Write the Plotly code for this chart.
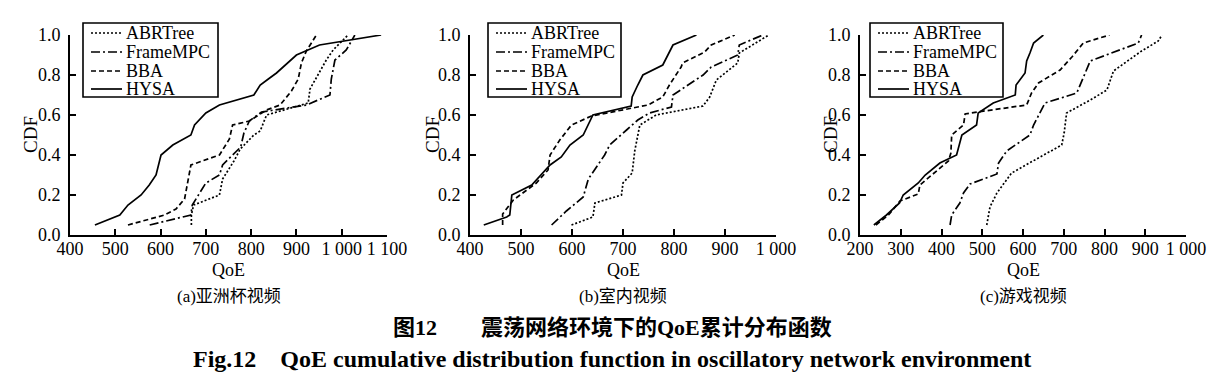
import plotly.graph_objects as go

# ---------------- data ----------------
SERIES = ["ABRTree", "FrameMPC", "BBA", "HYSA"]

# (a) 亚洲杯视频
A_ABRTREE_QOE = [668, 668, 673, 730, 737, 762, 776, 806, 820, 834, 926, 930, 966, 981, 1014]
A_ABRTREE_CDF = [0.05, 0.10, 0.15, 0.20, 0.28, 0.37, 0.43, 0.50, 0.52, 0.60, 0.66, 0.73, 0.875, 0.925, 1.0]
A_FRAMEMPC_QOE = [576, 667, 670, 700, 730, 737, 759, 777, 784, 796, 823, 922, 974, 977, 985, 1010, 1029]
A_FRAMEMPC_CDF = [0.05, 0.10, 0.15, 0.26, 0.30, 0.35, 0.40, 0.44, 0.51, 0.57, 0.615, 0.65, 0.70, 0.78, 0.875, 0.925, 1.0]
A_BBA_QOE = [528, 609, 634, 653, 667, 730, 752, 759, 796, 818, 834, 864, 889, 904, 911, 922, 944]
A_BBA_CDF = [0.05, 0.10, 0.13, 0.18, 0.35, 0.40, 0.48, 0.55, 0.57, 0.60, 0.625, 0.65, 0.72, 0.78, 0.86, 0.92, 1.0]
A_HYSA_QOE = [455, 510, 528, 557, 575, 590, 601, 627, 667, 675, 700, 730, 806, 820, 838, 856, 900, 922, 951, 1087]
A_HYSA_CDF = [0.05, 0.10, 0.15, 0.20, 0.25, 0.30, 0.40, 0.45, 0.50, 0.55, 0.61, 0.65, 0.70, 0.75, 0.78, 0.81, 0.90, 0.92, 0.95, 1.0]

# (b) 室内视频
B_ABRTREE_QOE = [599, 641, 645, 697, 700, 718, 723, 733, 765, 857, 870, 883, 925, 928, 986]
B_ABRTREE_CDF = [0.05, 0.09, 0.16, 0.20, 0.26, 0.31, 0.42, 0.55, 0.60, 0.645, 0.69, 0.775, 0.86, 0.91, 1.0]
B_FRAMEMPC_QOE = [560, 589, 622, 632, 664, 674, 707, 729, 752, 795, 798, 857, 873, 925, 928, 974]
B_FRAMEMPC_CDF = [0.05, 0.12, 0.19, 0.28, 0.40, 0.45, 0.525, 0.575, 0.61, 0.64, 0.70, 0.80, 0.84, 0.90, 0.95, 1.0]
B_BBA_QOE = [464, 464, 485, 530, 553, 557, 576, 599, 638, 749, 778, 791, 814, 817, 860, 873, 919]
B_BBA_CDF = [0.05, 0.105, 0.175, 0.26, 0.325, 0.40, 0.475, 0.55, 0.595, 0.65, 0.69, 0.75, 0.84, 0.86, 0.915, 0.95, 1.0]
B_HYSA_QOE = [427, 472, 478, 482, 521, 557, 579, 596, 622, 641, 716, 718, 729, 739, 778, 798, 844]
B_HYSA_CDF = [0.05, 0.09, 0.10, 0.20, 0.25, 0.35, 0.39, 0.45, 0.50, 0.60, 0.645, 0.69, 0.75, 0.80, 0.85, 0.95, 1.0]

# (c) 游戏视频
C_ABRTREE_QOE = [511, 519, 536, 572, 642, 695, 701, 707, 765, 806, 822, 891, 932, 941]
C_ABRTREE_CDF = [0.05, 0.14, 0.21, 0.31, 0.39, 0.45, 0.51, 0.61, 0.675, 0.725, 0.82, 0.92, 0.97, 1.0]
C_FRAMEMPC_QOE = [421, 425, 445, 454, 470, 536, 540, 560, 617, 626, 654, 732, 765, 838, 883, 891]
C_FRAMEMPC_CDF = [0.05, 0.10, 0.16, 0.21, 0.255, 0.305, 0.36, 0.42, 0.50, 0.55, 0.66, 0.71, 0.87, 0.925, 0.96, 1.0]
C_BBA_QOE = [239, 270, 298, 343, 347, 417, 423, 425, 454, 458, 495, 609, 621, 638, 691, 720, 748, 812]
C_BBA_CDF = [0.05, 0.10, 0.17, 0.205, 0.25, 0.37, 0.41, 0.50, 0.55, 0.605, 0.617, 0.65, 0.71, 0.76, 0.825, 0.89, 0.96, 1.0]
C_HYSA_QOE = [234, 265, 297, 306, 343, 360, 396, 437, 450, 486, 490, 527, 581, 583, 605, 609, 617, 626, 650]
C_HYSA_CDF = [0.05, 0.10, 0.16, 0.20, 0.26, 0.30, 0.36, 0.40, 0.50, 0.55, 0.61, 0.66, 0.70, 0.75, 0.81, 0.87, 0.91, 0.96, 1.0]

A_XTICKS = [400, 500, 600, 700, 800, 900, 1000, 1100]
A_XTICKTEXT = ["400", "500", "600", "700", "800", "900", "1 000", "1 100"]
B_XTICKS = [400, 500, 600, 700, 800, 900, 1000]
B_XTICKTEXT = ["400", "500", "600", "700", "800", "900", "1 000"]
C_XTICKS = [200, 300, 400, 500, 600, 700, 800, 900, 1000]
C_XTICKTEXT = ["200", "300", "400", "500", "600", "700", "800", "900", "1 000"]
Y_TICKS = [0.0, 0.2, 0.4, 0.6, 0.8, 1.0]
Y_TICKTEXT = ["0.0", "0.2", "0.4", "0.6", "0.8", "1.0"]

SUBTITLES = ["(a)亚洲杯视频", "(b)室内视频", "(c)游戏视频"]
TITLE_CN = "图12　　震荡网络环境下的QoE累计分布函数"
TITLE_EN = "Fig.12    QoE cumulative distribution function in oscillatory network environment"

# ---------------- layout / styling ----------------
W, H = 1226, 389
SERIF = "Liberation Serif, Times New Roman, serif"
CJK = "Liberation Serif, Noto Sans CJK SC, serif"
DASHES = {"ABRTree": "2px,2px", "FrameMPC": "9px,3px,2px,3px", "BBA": "5px,3px", "HYSA": "solid"}
LW = 1.7

panels = [
    dict(data=[(A_ABRTREE_QOE, A_ABRTREE_CDF), (A_FRAMEMPC_QOE, A_FRAMEMPC_CDF), (A_BBA_QOE, A_BBA_CDF), (A_HYSA_QOE, A_HYSA_CDF)],
         xr=[400, 1100], xt=A_XTICKS, xtt=A_XTICKTEXT, px=(70, 387), leg=(83, 218), cdf=30),
    dict(data=[(B_ABRTREE_QOE, B_ABRTREE_CDF), (B_FRAMEMPC_QOE, B_FRAMEMPC_CDF), (B_BBA_QOE, B_BBA_CDF), (B_HYSA_QOE, B_HYSA_CDF)],
         xr=[400, 1000], xt=B_XTICKS, xtt=B_XTICKTEXT, px=(470, 776), leg=(488, 621), cdf=432),
    dict(data=[(C_ABRTREE_QOE, C_ABRTREE_CDF), (C_FRAMEMPC_QOE, C_FRAMEMPC_CDF), (C_BBA_QOE, C_BBA_CDF), (C_HYSA_QOE, C_HYSA_CDF)],
         xr=[200, 1000], xt=C_XTICKS, xtt=C_XTICKTEXT, px=(860, 1186), leg=(870, 1003), cdf=830),
]
PY = (35, 235)          # plot top / bottom in pixels
LEG_Y = (23, 97)        # legend box top / bottom in pixels
LEG_ROWS = [33, 52, 71, 89]


def px_x(v):
    return v / W


def px_y(v):
    return 1 - v / H


fig = go.Figure()
layout = dict(width=W, height=H, margin=dict(l=0, r=0, t=0, b=0, autoexpand=False),
              paper_bgcolor="white", plot_bgcolor="white", template="none", showlegend=False,
              font=dict(family=SERIF, size=18, color="black"), annotations=[], shapes=[])

ydom = [px_y(PY[1]), px_y(PY[0])]
for i, p in enumerate(panels):
    n = "" if i == 0 else str(i + 1)
    for name, (xs, ys) in zip(SERIES, p["data"]):
        fig.add_trace(go.Scatter(
            x=xs, y=ys, mode="lines", name=name,
            line=dict(color="black", width=LW, dash=DASHES[name]),
            xaxis="x" + n, yaxis="y" + n, showlegend=False))
    axstyle = dict(showline=True, linecolor="black", linewidth=1.6, ticks="inside",
                   ticklen=6, tickwidth=1.6, tickcolor="black", showgrid=False,
                   zeroline=False, automargin=False,
                   tickfont=dict(family=SERIF, size=18, color="black"))
    layout["xaxis" + n] = dict(domain=[px_x(p["px"][0]), px_x(p["px"][1])], range=p["xr"],
                               tickvals=p["xt"], ticktext=p["xtt"], anchor="y" + n,
                               ticklabelstandoff=-3, **axstyle)
    layout["yaxis" + n] = dict(domain=ydom, range=[0, 1], tickvals=Y_TICKS, ticktext=Y_TICKTEXT,
                               anchor="x" + n, ticklabelstandoff=4, **axstyle)

    # legend box (framed key, one entry per series)
    lx0, lx1 = p["leg"]
    layout["shapes"].append(dict(type="rect", xref="paper", yref="paper",
                                 x0=px_x(lx0), x1=px_x(lx1), y0=px_y(LEG_Y[1]), y1=px_y(LEG_Y[0]),
                                 line=dict(color="black", width=1.6), fillcolor="white", layer="above"))
    for name, ry in zip(SERIES, LEG_ROWS):
        layout["shapes"].append(dict(type="line", xref="paper", yref="paper",
                                     x0=px_x(lx0 + 8), x1=px_x(lx0 + 39), y0=px_y(ry), y1=px_y(ry),
                                     line=dict(color="black", width=LW, dash=DASHES[name]), layer="above"))
        layout["annotations"].append(dict(text=name, x=px_x(lx0 + 41), y=px_y(ry), xref="paper", yref="paper",
                                          showarrow=False, xanchor="left", yanchor="middle",
                                          font=dict(family=SERIF, size=18, color="black")))

    cx = px_x((p["px"][0] + p["px"][1]) / 2)
    layout["annotations"] += [
        dict(text="QoE", x=cx, y=px_y(270), xref="paper", yref="paper", showarrow=False,
             xanchor="center", yanchor="middle", font=dict(family=SERIF, size=18, color="black")),
        dict(text=SUBTITLES[i], x=cx, y=px_y(296), xref="paper", yref="paper", showarrow=False,
             xanchor="center", yanchor="middle", font=dict(family=CJK, size=17, color="black")),
        dict(text="CDF", x=px_x(p["cdf"]), y=px_y(135), xref="paper", yref="paper", showarrow=False,
             xanchor="center", yanchor="middle", textangle=-90,
             font=dict(family=SERIF, size=19, color="black")),
    ]

layout["annotations"] += [
    dict(text="<b>" + TITLE_CN + "</b>", x=px_x(612), y=px_y(327), xref="paper", yref="paper",
         showarrow=False, xanchor="center", yanchor="middle", font=dict(family=CJK, size=22, color="black")),
    dict(text="<b>" + TITLE_EN + "</b>", x=px_x(612), y=px_y(359), xref="paper", yref="paper",
         showarrow=False, xanchor="center", yanchor="middle", font=dict(family=SERIF, size=24, color="black")),
]

fig.update_layout(**layout)
fig.write_html("out.html", config={"displayModeBar": False},
               post_script="document.body.style.margin='0px';")
